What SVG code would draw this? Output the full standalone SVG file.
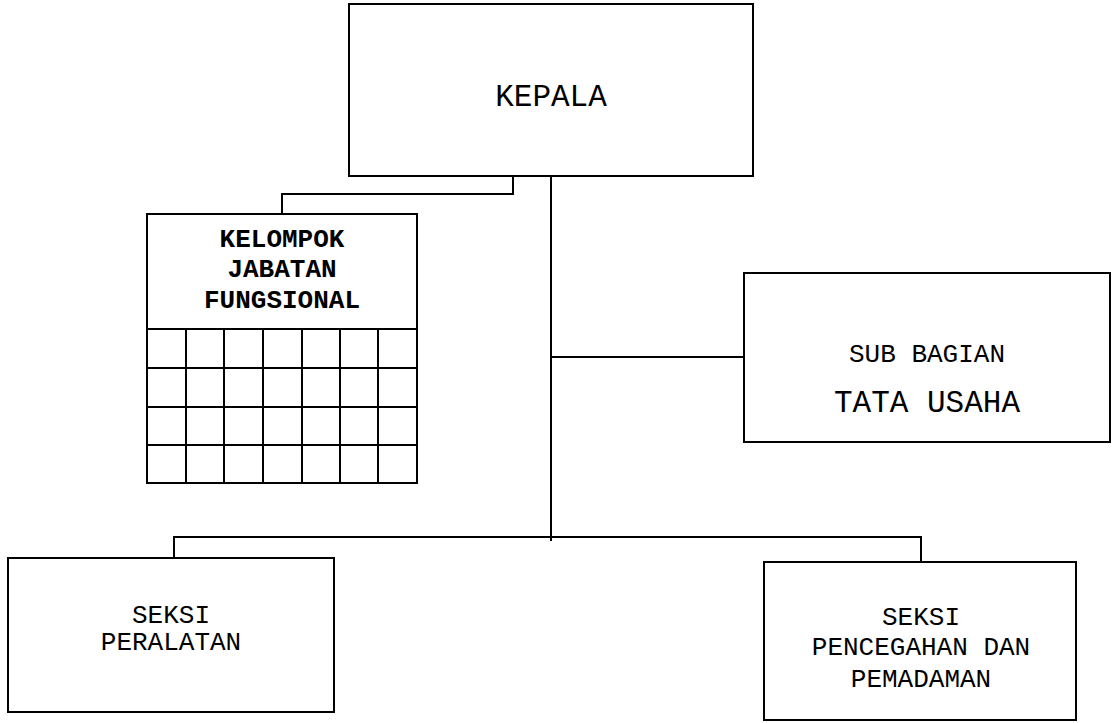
<svg xmlns="http://www.w3.org/2000/svg" width="1112" height="723" viewBox="0 0 1112 723">
  <style>
    .box { fill: #ffffff; stroke: #000000; stroke-width: 2; }
    .grid { fill: none; stroke: #000000; stroke-width: 2; }
    .link { fill: none; stroke: #000000; stroke-width: 2; }
    .lbl { font-family: "Liberation Mono", "Courier New", monospace; font-size: 26px; fill: #000000; text-anchor: middle; }
    .big { font-size: 31px; }
    .bold { font-weight: bold; }
  </style>
  <rect width="1112" height="723" fill="#ffffff"/>

  <!-- connectors -->
  <g id="connectors">
    <path class="link" d="M513 176 V194 H282 V214"/>
    <path class="link" d="M551 176 V541"/>
    <path class="link" d="M551 357 H744"/>
    <path class="link" d="M174 558 V537 H921 V562"/>
  </g>

  <!-- head -->
  <g id="kepala">
    <rect class="box" x="349" y="4" width="404" height="172"/>
    <text class="lbl big" x="551" y="106">KEPALA</text>
  </g>

  <!-- functional group with grid -->
  <g id="kelompok-jabatan-fungsional">
    <rect class="box" x="147" y="214" width="270" height="269"/>
    <path class="grid" d="M147 329 H417 M147 368 H417 M147 407 H417 M147 445 H417"/>
    <path class="grid" d="M186 329 V483 M224 329 V483 M263 329 V483 M302 329 V483 M340 329 V483 M378 329 V483"/>
    <text class="lbl bold" x="282" y="247">KELOMPOK</text>
    <text class="lbl bold" x="282" y="277">JABATAN</text>
    <text class="lbl bold" x="282" y="308">FUNGSIONAL</text>
  </g>

  <!-- administration -->
  <g id="sub-bagian-tata-usaha">
    <rect class="box" x="744" y="273" width="366" height="169"/>
    <text class="lbl" x="927" y="362">SUB BAGIAN</text>
    <text class="lbl big" x="927" y="412">TATA USAHA</text>
  </g>

  <!-- sections -->
  <g id="seksi-peralatan">
    <rect class="box" x="8" y="558" width="326" height="154"/>
    <text class="lbl" x="171" y="623">SEKSI</text>
    <text class="lbl" x="171" y="650">PERALATAN</text>
  </g>

  <g id="seksi-pencegahan-dan-pemadaman">
    <rect class="box" x="764" y="562" width="312" height="158"/>
    <text class="lbl" x="921" y="625">SEKSI</text>
    <text class="lbl" x="921" y="655">PENCEGAHAN DAN</text>
    <text class="lbl" x="921" y="687">PEMADAMAN</text>
  </g>
</svg>
